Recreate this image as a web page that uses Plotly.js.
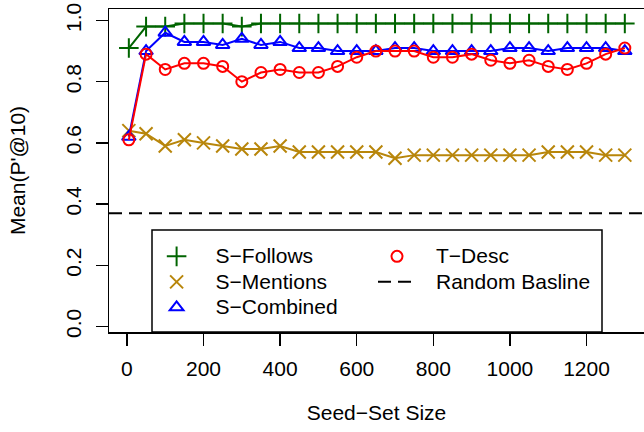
<!DOCTYPE html>
<html><head><meta charset="utf-8">
<script src="https://cdn.plot.ly/plotly-3.0.1.min.js"></script>
<style>html,body{margin:0;padding:0;background:#fff}</style>
</head><body><div id="chart" style="width:644px;height:432px"></div>
<script>
const seedSize = [5,50,100,150,200,250,300,350,400,450,500,550,600,650,700,750,800,850,900,950,1000,1050,1100,1150,1200,1250,1300];
const sFollows = [0.91,0.98,0.98,0.99,0.99,0.99,0.98,0.99,0.99,0.99,0.99,0.99,0.99,0.99,0.99,0.99,0.99,0.99,0.99,0.99,0.99,0.99,0.99,0.99,0.99,0.99,0.99];
const sMentions = [0.64,0.63,0.59,0.61,0.60,0.59,0.58,0.58,0.59,0.57,0.57,0.57,0.57,0.57,0.55,0.56,0.56,0.56,0.56,0.56,0.56,0.56,0.57,0.57,0.57,0.56,0.56];
const sCombined = [0.62,0.90,0.96,0.93,0.93,0.92,0.94,0.92,0.93,0.91,0.91,0.90,0.90,0.90,0.91,0.91,0.90,0.90,0.90,0.90,0.91,0.91,0.90,0.91,0.91,0.91,0.90];
const tDesc = [0.61,0.89,0.84,0.86,0.86,0.85,0.80,0.83,0.84,0.83,0.83,0.85,0.88,0.90,0.90,0.90,0.88,0.88,0.89,0.87,0.86,0.87,0.85,0.84,0.86,0.89,0.91];
const randomBaseline = 0.37;
const seriesNames = ['S\u2212Follows','S\u2212Mentions','S\u2212Combined','T\u2212Desc','Random Basline'];
const xTickVals = [0,200,400,600,800,1000,1200];
const yTickVals = [0,0.2,0.4,0.6,0.8,1.0];
const yTickText = ['0.0','0.2','0.4','0.6','0.8','1.0'];

const FONT = 'Liberation Sans, Arial, Helvetica, sans-serif';
const FS = 21;
const legendLabel = n => '<span style="font-size:' + FS + 'px">' + n + '</span>';
const series = [
  {y: sFollows, name: seriesNames[0], color: '#006400', symbol: 'cross-thin-open', size: 14, legend: 'legend', rank: 1},
  {y: sMentions, name: seriesNames[1], color: '#B8860B', symbol: 'x-thin-open', size: 13, legend: 'legend', rank: 2},
  {y: sCombined, name: seriesNames[2], color: '#0000FF', symbol: 'triangle-up-open', size: 12, legend: 'legend', rank: 3},
  {y: tDesc, name: seriesNames[3], color: '#FF0000', symbol: 'circle-open', size: 11, legend: 'legend2', rank: 1}
];
const traces = [];
series.forEach(s => {
  traces.push({x: seedSize, y: s.y, type: 'scatter', mode: 'lines+markers', showlegend: false,
    line: {color: s.color, width: 2},
    marker: {symbol: s.symbol, size: s.size, color: s.color, line: {color: s.color, width: 2}},
    hoverinfo: 'skip'});
});
series.forEach(s => {
  traces.push({x: [null], y: [null], type: 'scatter', mode: 'markers', name: legendLabel(s.name),
    legend: s.legend, legendrank: s.rank,
    marker: {symbol: s.symbol, size: s.size, color: s.color, line: {color: s.color, width: 2}}});
});
traces.push({x: [null], y: [null], type: 'scatter', mode: 'lines', name: legendLabel(seriesNames[4]),
  legend: 'legend2', legendrank: 2,
  line: {color: '#000', width: 2, dash: '0px,15px,13px,7px,13px,200px'}});

const L = 109, T = 9, B = 100, Rm = 0;
const plotW = 644 - L - Rm, plotH = 432 - T - B;
const px2fx = p => (p - L) / plotW;
const px2fy = p => (432 - B - p) / plotH;
const legendCommon = {orientation: 'v', xanchor: 'left', y: px2fy(238.6), yanchor: 'top',
  bgcolor: 'rgba(0,0,0,0)', borderwidth: 0, itemwidth: 68, traceorder: 'normal', tracegroupgap: 0,
  font: {family: FONT, size: 17.3, color: '#000'}, itemclick: false};

const layout = {
  width: 644, height: 432,
  margin: {l: L, r: Rm, t: T, b: B, pad: 0},
  paper_bgcolor: '#fff', plot_bgcolor: '#fff',
  font: {family: FONT, size: FS, color: '#000'},
  showlegend: true,
  legend: Object.assign({}, legendCommon, {x: px2fx(137.6)}),
  legend2: Object.assign({}, legendCommon, {x: px2fx(358)}),
  xaxis: {range: [-46.8, -46.8 + plotW / 0.383], tickvals: xTickVals, ticktext: xTickVals.map(String),
    showgrid: false, zeroline: false, showline: true, mirror: true, linecolor: '#000', linewidth: 1.5,
    ticks: 'outside', ticklen: 12, tickwidth: 1.5, tickcolor: '#000', ticklabelstandoff: 5,
    tickfont: {family: FONT, size: FS, color: '#000'},
    title: {text: 'Seed\u2212Set Size', font: {family: FONT, size: FS, color: '#000'}, standoff: 26}},
  yaxis: {range: [-0.018, -0.018 + plotH / 306], tickvals: yTickVals, ticktext: yTickText, tickangle: -90,
    showgrid: false, zeroline: false, showline: true, mirror: true, linecolor: '#000', linewidth: 1.5,
    ticks: 'outside', ticklen: 12, tickwidth: 1.5, tickcolor: '#000', ticklabelstandoff: 6,
    tickfont: {family: FONT, size: FS, color: '#000'},
    title: {text: "Mean(P'@10)", font: {family: FONT, size: FS, color: '#000'}, standoff: 30}},
  shapes: [
    {type: 'line', xref: 'paper', x0: 0, x1: 1, yref: 'y', y0: randomBaseline, y1: randomBaseline,
     line: {color: '#000', width: 2, dash: '13px,7px'}, layer: 'below'},
    {type: 'rect', xref: 'paper', yref: 'paper', x0: px2fx(152), x1: px2fx(602), y0: 0, y1: px2fy(230),
     line: {color: '#000', width: 1.5}, fillcolor: '#fff', layer: 'below'}
  ]
};
Plotly.newPlot('chart', traces, layout, {displayModeBar: false, staticPlot: true});
</script></body></html>
